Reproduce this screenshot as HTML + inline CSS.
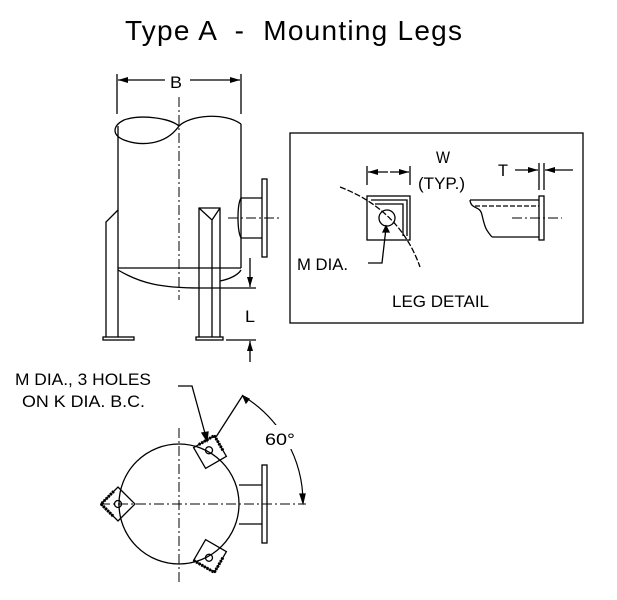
<!DOCTYPE html>
<html><head><meta charset="utf-8"><style>
html,body{margin:0;padding:0;background:#fff}
svg{display:block}
.t{font-family:"Liberation Sans",sans-serif;fill:#000}
.m{font-family:"Liberation Sans",sans-serif;fill:#000;font-size:17px}
</style></head><body>
<svg width="617" height="600" viewBox="0 0 617 600" xmlns="http://www.w3.org/2000/svg">
<defs><marker id="a" viewBox="0 0 10 6" refX="10" refY="3" markerWidth="10" markerHeight="6" orient="auto" markerUnits="userSpaceOnUse"><path d="M0,0L10,3L0,6z" fill="#000"/></marker></defs>
<text x="125" y="40" class="t" font-size="28" textLength="337" lengthAdjust="spacing" xml:space="preserve">Type A  -  Mounting Legs</text>
<g stroke="#000" fill="none" stroke-width="1.3">
<line x1="117" y1="74" x2="117" y2="114"/><line x1="241" y1="74" x2="241" y2="114"/>
<line x1="165" y1="80" x2="118" y2="80" marker-end="url(#a)"/><line x1="190" y1="80" x2="240" y2="80" marker-end="url(#a)"/>
<path d="M179,126 C170,118 140,114 124,120 C112,126 112,135 124,140 C140,146 165,146 179,126 C190,115 225,112 241,124"/>
<line x1="118" y1="126" x2="118" y2="268"/><line x1="241" y1="124" x2="241" y2="268"/>
<line x1="118" y1="268" x2="241" y2="268"/>
<path d="M118,270 C140,283 160,288 200,288"/><path d="M220,281 C230,279 238,275 241,270"/>
<line x1="179" y1="97" x2="179" y2="300" stroke-dasharray="10,3,2,3" stroke-width="1"/>
<path d="M241,198 L262,198 M241,238 L262,238 M241,198 C237,205 237,230 241,238"/>
<rect x="262" y="179" width="5" height="78"/>
<line x1="228" y1="218" x2="280" y2="218" stroke-dasharray="10,3,2,3" stroke-width="1"/>
<path d="M118,210 L106,222 L106,337 M118,268 L118,337"/>
<rect x="103" y="337" width="31" height="3"/>
<path d="M199,337 L199,208 L220,208 L220,337 M212,220 L212,337 M199,208 L212,220 L220,208"/>
<rect x="196" y="337" width="27" height="3"/>
<line x1="200" y1="288" x2="256" y2="288"/><line x1="226" y1="340" x2="256" y2="340"/>
<line x1="250" y1="258" x2="250" y2="287" marker-end="url(#a)"/>
<line x1="250" y1="362" x2="250" y2="341" marker-end="url(#a)"/>
<rect x="290" y="133" width="293" height="190"/>
<line x1="367" y1="166" x2="367" y2="185"/><line x1="410" y1="166" x2="410" y2="185"/>
<line x1="388" y1="172" x2="368" y2="172" marker-end="url(#a)"/><line x1="390" y1="172" x2="409" y2="172" marker-end="url(#a)"/>
<rect x="367" y="196" width="43" height="44"/>
<path d="M371,200 L407,200 L407,236 M375,204 L403,204 L403,236"/>
<circle cx="387" cy="218" r="8"/>
<path d="M340,187 Q400,210 420,267" stroke-dasharray="6,2"/>
<path d="M368,263 L382,263 L386,228"/><path d="M383,232 L386,226 L389,232z" fill="#000"/>
<rect x="539" y="196" width="5" height="44"/>
<path d="M470,200 L539,200 M492,237 L539,237 M470,200 C471,210 480,205 482,215 C485,228 486,230 492,237"/>
<line x1="475" y1="206" x2="539" y2="206" stroke-dasharray="5,2"/>
<line x1="512" y1="218" x2="562" y2="218" stroke-dasharray="10,3,2,3" stroke-width="1"/>
<line x1="539" y1="163" x2="539" y2="190"/><line x1="544" y1="163" x2="544" y2="190"/>
<line x1="515" y1="170" x2="538" y2="170" marker-end="url(#a)"/><line x1="573" y1="170" x2="545" y2="170" marker-end="url(#a)"/>
<circle cx="179" cy="504" r="60"/>
<line x1="100" y1="504" x2="306" y2="504" stroke-dasharray="10,3,2,3" stroke-width="1"/>
<line x1="179" y1="428" x2="179" y2="584" stroke-dasharray="10,3,2,3" stroke-width="1"/>
<path d="M239,485 L262,485 M239,524 L262,524"/>
<rect x="262" y="465" width="5" height="78"/>
<g transform="translate(210,452) rotate(-30)"><rect x="-12" y="-12" width="24" height="24"/><path d="M-6,-12 L12,-12 L12,6" stroke-width="3" stroke-dasharray="2,1"/><circle cx="0" cy="-2" r="3.5"/></g>
<g transform="translate(118,504) rotate(45)"><rect x="-12" y="-12" width="24" height="24"/><path d="M-12,-6 L-12,12 L6,12" stroke-width="3" stroke-dasharray="2,1"/><circle cx="0" cy="0" r="3.5"/></g>
<g transform="translate(210,556) rotate(30)"><rect x="-12" y="-12" width="24" height="24"/><path d="M-12,12 L12,12 L12,-6" stroke-width="3" stroke-dasharray="2,1"/><circle cx="0" cy="2" r="3.5"/></g>
<path d="M178,386 L192,386 L206,437"/><path d="M202,433 L207,441 L208,432z" fill="#000"/>
<line x1="216" y1="437" x2="243" y2="395"/>
<path d="M243,396 A125,125 0 0 1 303,503" stroke-width="1.2" fill="none"/>
<path d="M243,396 l6,3 l-3,4z" fill="#000"/>
<path d="M303,503 l-3,-9 l5,0z" fill="#000"/>
</g>
<rect x="255" y="425" width="42" height="24" fill="#fff"/>
<g class="m">
<text x="170" y="88" textLength="12" lengthAdjust="spacingAndGlyphs">B</text>
<text x="245" y="322" textLength="10" lengthAdjust="spacingAndGlyphs">L</text>
<text x="436" y="163" textLength="14" lengthAdjust="spacingAndGlyphs">W</text>
<text x="418" y="189" textLength="47" lengthAdjust="spacingAndGlyphs">(TYP.)</text>
<text x="498" y="176" textLength="10" lengthAdjust="spacingAndGlyphs">T</text>
<text x="297" y="270" textLength="51" lengthAdjust="spacingAndGlyphs">M DIA.</text>
<text x="392" y="307" textLength="97" lengthAdjust="spacingAndGlyphs">LEG DETAIL</text>
<text x="15" y="385" textLength="136" lengthAdjust="spacingAndGlyphs">M DIA., 3 HOLES</text>
<text x="22" y="407" textLength="123" lengthAdjust="spacingAndGlyphs">ON K DIA. B.C.</text>
<text x="265" y="445" textLength="30" lengthAdjust="spacingAndGlyphs">60°</text>
</g>
</svg>
</body></html>
